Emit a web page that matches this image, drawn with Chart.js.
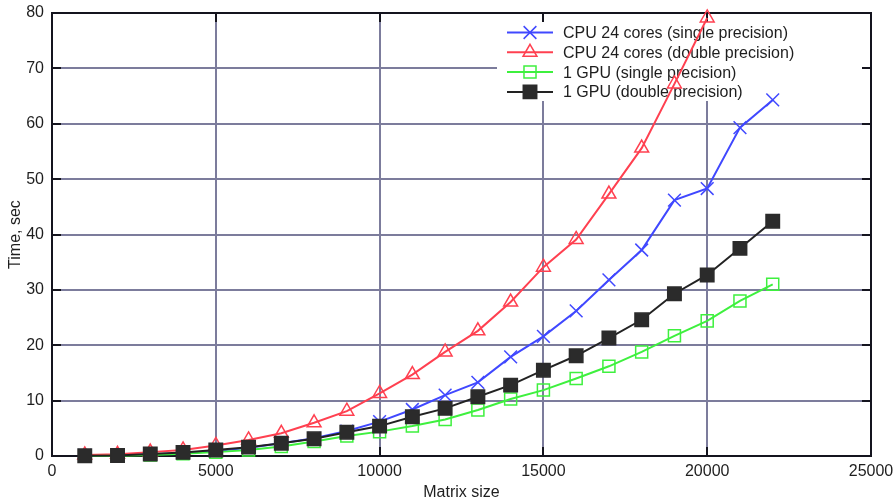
<!DOCTYPE html>
<html>
<head>
<meta charset="utf-8">
<script src="https://cdn.jsdelivr.net/npm/chart.js@4/dist/chart.umd.min.js"></script>
<style>
html,body{margin:0;padding:0;background:#fff;}
#wrap{width:895px;height:502px;}
</style>
</head>
<body>
<div id="wrap"><canvas id="c" width="895" height="502"></canvas></div>
<script>
// ---- data ----
const matrixSizes = [1000,2000,3000,4000,5000,6000,7000,8000,9000,10000,11000,12000,13000,14000,15000,16000,17000,18000,19000,20000,21000,22000];
const cpuSingle = [0.1,0.2,0.3,0.5,0.9,1.5,2.3,3.2,4.5,6.2,8.4,11.0,13.3,17.9,21.6,26.2,31.8,37.2,46.2,48.3,59.3,64.3];
const cpuDouble = [0.2,0.3,0.7,1.1,1.9,2.9,4.1,6.0,8.1,11.3,14.7,18.8,22.6,27.8,34.1,39.1,47.3,55.6,67.2,79.1];
const gpuSingle = [0.02,0.05,0.2,0.4,0.7,1.1,1.7,2.6,3.6,4.4,5.4,6.6,8.3,10.3,11.9,14.0,16.2,18.8,21.7,24.4,28.0,31.0];
const gpuDouble = [0.05,0.1,0.35,0.65,1.1,1.6,2.3,3.1,4.3,5.4,7.1,8.6,10.7,12.8,15.5,18.1,21.3,24.6,29.3,32.7,37.5,42.4];
const seriesLabels = ['CPU 24 cores (single precision)','CPU 24 cores (double precision)','1 GPU (single precision)','1 GPU (double precision)'];
const xTicks = [0,5000,10000,15000,20000,25000];
const yTicks = [0,10,20,30,40,50,60,70,80];

const FONT = 'Liberation Sans, Arial, sans-serif';
const TXT = '#1e1e1e';
const GRID = '#7c7c9c';
const FRAME = '#14141e';

function pts(vals){ return vals.map((v,i)=>({x:matrixSizes[i], y:v})); }

const styles = [
  {color:'#4048ff', pointStyle:'crossRot', radius:9, fill:'rgba(0,0,0,0)', order:4},
  {color:'#ff4050', pointStyle:'triangle', radius:8, fill:'rgba(0,0,0,0)', order:3},
  {color:'#3ef03e', pointStyle:'rect', radius:8.5, fill:'rgba(0,0,0,0)', order:2},
  {color:'#222222', pointStyle:'rect', radius:9.5, fill:'#2b2b2b', order:1, pointColor:'#2b2b2b'}
];
const seriesData = [cpuSingle, cpuDouble, gpuSingle, gpuDouble];

const datasets = seriesData.map((vals,i)=>({
  label: seriesLabels[i],
  data: pts(vals),
  borderColor: styles[i].color,
  backgroundColor: styles[i].fill,
  borderWidth: 2,
  pointStyle: styles[i].pointStyle,
  pointRadius: styles[i].radius,
  pointBorderWidth: 1.5,
  pointBorderColor: styles[i].pointColor || styles[i].color,
  pointBackgroundColor: styles[i].fill,
  tension: 0,
  fill: false,
  order: styles[i].order,
  clip: false
}));

function drawMarker(ctx, st, x, y){
  const r = st.radius;
  ctx.save();
  ctx.lineWidth = 1.5;
  ctx.strokeStyle = st.pointColor || st.color;
  ctx.fillStyle = st.fill;
  ctx.beginPath();
  if (st.pointStyle === 'crossRot') {
    const o = Math.SQRT1_2 * r;
    ctx.moveTo(x-o,y-o); ctx.lineTo(x+o,y+o);
    ctx.moveTo(x-o,y+o); ctx.lineTo(x+o,y-o);
    ctx.stroke();
  } else if (st.pointStyle === 'triangle') {
    const w = Math.sin(Math.PI*2/3)*r;
    ctx.moveTo(x, y-r); ctx.lineTo(x+w, y+r/2); ctx.lineTo(x-w, y+r/2); ctx.closePath();
    ctx.fill(); ctx.stroke();
  } else {
    const s = Math.SQRT1_2 * r;
    ctx.rect(x-s, y-s, 2*s, 2*s);
    ctx.fill(); ctx.stroke();
  }
  ctx.restore();
}

const framePlugin = {
  id: 'frameAndKey',
  beforeDatasetsDraw(chart){
    const ctx = chart.ctx;
    const a = chart.chartArea;
    const xs = chart.scales.x, ys = chart.scales.y;
    ctx.save();
    // key box (covers grid up to the right frame)
    ctx.fillStyle = '#ffffff';
    ctx.fillRect(497, a.top + 1, a.right - 497, 87);
    // frame
    ctx.strokeStyle = FRAME;
    ctx.lineWidth = 2;
    ctx.strokeRect(a.left, a.top, a.right - a.left, a.bottom - a.top);
    // inward ticks
    ctx.lineWidth = 2;
    ctx.beginPath();
    xTicks.slice(1,-1).forEach(v=>{
      const px = Math.round(xs.getPixelForValue(v));
      ctx.moveTo(px, a.bottom); ctx.lineTo(px, a.bottom-9);
      ctx.moveTo(px, a.top); ctx.lineTo(px, a.top+9);
    });
    yTicks.slice(1,-1).forEach(v=>{
      const py = Math.round(ys.getPixelForValue(v));
      ctx.moveTo(a.left, py); ctx.lineTo(a.left+9, py);
      ctx.moveTo(a.right, py); ctx.lineTo(a.right-9, py);
    });
    ctx.stroke();
    // key entries
    ctx.font = '16px ' + FONT;
    ctx.textBaseline = 'middle';
    ctx.textAlign = 'left';
    const rows = [32.5, 52.3, 72.1, 91.9];
    styles.forEach((st,i)=>{
      const y = rows[i];
      ctx.strokeStyle = st.color;
      ctx.lineWidth = 2;
      ctx.beginPath();
      ctx.moveTo(507, y); ctx.lineTo(553, y);
      ctx.stroke();
      drawMarker(ctx, st, 530, y);
      ctx.fillStyle = TXT;
      ctx.fillText(seriesLabels[i], 563, y+1);
    });
    ctx.restore();
  }
};

new Chart(document.getElementById('c'), {
  type: 'line',
  data: { datasets },
  options: {
    responsive: false,
    animation: false,
    devicePixelRatio: 1,
    layout: { padding: { top: 13, right: 24, left: 0, bottom: 0 } },
    plugins: { legend: { display: false }, tooltip: { enabled: false } },
    scales: {
      x: {
        type: 'linear', min: 0, max: 25000,
        afterBuildTicks(s){ s.ticks = xTicks.map(v=>({value:v})); },
        afterFit(s){ s.height = 46; s.paddingLeft = 0; s.paddingRight = 0; },
        ticks: { color: TXT, font: { family: FONT, size: 16 }, padding: 6, maxRotation: 0, autoSkip: false,
                 callback: v => String(v) },
        grid: { drawTicks: false, lineWidth: 2,
                color: c => (c.tick && (c.tick.value === 0 || c.tick.value === 25000)) ? 'rgba(0,0,0,0)' : GRID },
        border: { display: false },
        title: { display: true, text: 'Matrix size', color: TXT, font: { family: FONT, size: 16 }, padding: { top: 0, bottom: 0 } }
      },
      y: {
        type: 'linear', min: 0, max: 80,
        afterBuildTicks(s){ s.ticks = yTicks.map(v=>({value:v})); },
        afterFit(s){ s.width = 52; s.paddingTop = 0; s.paddingBottom = 0; },
        ticks: { color: TXT, font: { family: FONT, size: 16 }, padding: 8, autoSkip: false,
                 callback: v => String(v) },
        grid: { drawTicks: false, lineWidth: 2,
                color: c => (c.tick && (c.tick.value === 0 || c.tick.value === 80)) ? 'rgba(0,0,0,0)' : GRID },
        border: { display: false },
        title: { display: true, text: 'Time, sec', color: TXT, font: { family: FONT, size: 16 }, padding: { top: 6, bottom: 0 } }
      }
    }
  },
  plugins: [framePlugin]
});
</script>
</body>
</html>
